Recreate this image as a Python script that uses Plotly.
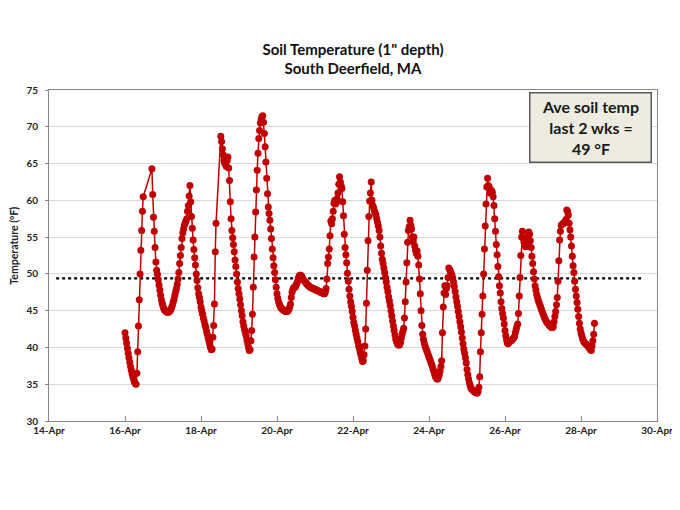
import pandas as pd
import plotly.graph_objects as go

# half-hourly soil temperature readings (deg F), one list per day starting 00:00
# None = missing reading (line is drawn straight across the gap)
temp_apr16 = [42.0, 41.3, 40.6, 39.9, 39.2, 38.6, 38.0, 37.4, 36.9, 36.4, 36.0, 35.6,
              35.3, 35.1, 35.0, 36.5, 39.4, 42.9, 46.5, 50.0, 53.2, 55.9, 58.5, 60.5,
              None, None, None, None, None, None, None, None, None, None, 64.3, 60.8,
              57.7, 55.8, 53.6, 51.6, 50.5, 49.9, 49.2, 48.5, 47.8, 47.1, 46.5, 46.0]
temp_apr17 = [45.6, 45.3, 45.1, 45.0, 44.9, 44.8, 44.8, 44.8, 44.9, 45.0, 45.2, 45.5,
              45.8, 46.2, 46.6, 47.1, 47.6, 48.0, 48.6, 49.3, 50.2, 51.4, 52.5, 53.6,
              54.8, 55.6, 56.1, 56.6, 56.9, 57.2, 57.5, 58.5, 59.3, 60.6, 62.0, 59.8,
              57.8, 56.2, 54.6, 53.3, 52.2, 51.2, 50.0, 49.1, 48.1, 47.3, 46.8, 46.2]
temp_apr18 = [45.5, 45.0, 44.5, 44.0, 43.6, 43.1, 42.7, 42.2, 41.8, 41.3, 40.9, 40.4,
              40.0, 39.7, 39.8, 41.4, 43.0, 45.9, 53.0, 56.9, None, None, None, None,
              None, 68.7, 68.0, 67.0, 66.2, 65.4, 65.0, 65.6, 64.6, 65.4, 65.9, 64.4,
              62.7, 59.8, 57.5, 55.9, 54.9, 54.0, 53.0, 51.9, 51.0, 50.0, 48.9, 48.0]
temp_apr19 = [47.3, 46.6, 45.8, 45.0, 44.3, 43.5, 42.9, 42.4, 42.0, 41.6, 41.0, 40.5,
              40.0, 39.6, 39.7, 40.9, 42.3, 44.5, 48.2, 52.3, 55.0, 58.4, 61.4, 64.1,
              66.4, 68.4, 69.5, 70.5, 71.0, 71.4, 71.5, 70.6, 69.1, 67.3, 65.2, 63.0,
              60.9, 59.1, 58.2, 57.3, 56.1, 54.8, 53.4, 52.2, 51.1, 50.2, 49.2, 48.2]
temp_apr20 = [47.3, 46.7, 46.2, 45.9, 45.6, 45.4, 45.3, 45.2, 45.1, 45.0, 45.0, 44.9,
              44.9, 44.9, 45.0, 45.2, 45.5, 45.9, 46.8, 47.5, 47.9, 48.1, 48.2, 48.2,
              48.5, 48.7, 49.0, 49.4, 49.7, 49.8, 49.8, 49.7, 49.5, 49.3, 49.1, 49.0,
              48.9, 48.7, 48.6, 48.5, 48.4, 48.3, 48.2, 48.1, 48.1, 48.0, 48.0, 47.9]
temp_apr21 = [47.9, 47.8, 47.8, 47.7, 47.7, 47.6, 47.6, 47.5, 47.5, 47.4, 47.4, 47.3,
              47.3, 47.5, 48.0, 49.3, 51.4, 52.3, 53.4, 55.2, 57.2, 56.8, 57.5, 58.5,
              59.6, 60.0, 59.5, 59.7, 60.2, 61.0, 62.2, 63.2, 62.5, 62.0, 61.6, 59.8,
              57.9, 55.4, 53.6, 52.6, 51.5, 50.1, 49.0, 47.9, 47.0, 46.2, 45.6, 44.9]
temp_apr22 = [44.1, 43.4, 42.9, 42.3, 41.8, 41.3, 40.8, 40.3, 39.9, 39.4, 39.0, 38.5,
              38.1, 38.2, 39.0, 40.2, 42.5, 46.0, 50.5, 54.5, 57.8, 59.9, 61.0, 62.5,
              60.0, 59.3, 59.0, 58.6, 58.3, 58.0, 57.5, 57.0, 56.5, 55.9, 55.0, 53.8,
              52.8, 52.0, 51.4, 50.8, 50.2, 49.5, 48.9, 48.2, 47.6, 46.9, 46.3, 45.7]
temp_apr23 = [45.0, 44.3, 43.6, 42.9, 42.3, 41.7, 41.1, 40.8, 40.5, 40.4, 40.3, 40.4,
              40.7, 41.3, 41.8, 42.2, 42.6, 44.0, 46.2, 48.9, 51.5, 54.3, 55.9, 56.4,
              57.3, 56.6, 56.1, 55.0, 54.4, 55.0, 53.8, 53.2, 52.8, 53.1, 52.4, 51.2,
              49.3, 47.3, 45.0, 43.0, 41.8, 41.1, 40.6, 40.2, 39.9, 39.6, 39.3, 39.0]
temp_apr24 = [38.7, 38.4, 38.1, 37.8, 37.5, 37.1, 36.8, 36.4, 36.1, 35.9, 35.7, 35.7,
              36.0, 36.3, 36.8, 37.4, 38.2, 42.0, 45.5, 47.4, 48.4, 47.2, 48.0, 48.4,
              49.5, 50.8, 50.6, 50.4, 50.1, 49.8, 49.4, 48.9, 48.3, 47.6, 46.9, 46.2,
              45.6, 44.9, 44.2, 43.5, 42.8, 42.1, 41.3, 40.5, 39.8, 39.2, 38.6, 37.9]
temp_apr25 = [37.0, 36.3, 35.7, 35.2, 34.8, 34.5, 34.3, 34.2, 34.1, 34.0, 33.9, 33.9,
              33.8, 33.8, 34.0, 34.6, 36.0, 39.4, 42.0, 44.5, 47.0, 50.0, 53.4, 56.5,
              59.5, 61.8, 63.0, 62.0, 61.8, 61.0, 61.4, 61.3, 61.1, 60.5, 59.3, 57.5,
              55.8, 54.0, 52.6, 51.0, 49.6, 48.4, 47.4, 46.2, 45.3, 44.6, 44.0, 43.2]
temp_apr26 = [42.3, 41.6, 41.0, 40.6, 40.5, 40.7, 40.8, 40.9, 40.9, 41.0, 41.2, 41.3,
              41.5, 42.0, 42.4, 42.8, 43.2, 44.6, 47.0, 49.5, 52.5, 55.0, 55.8, 54.8,
              54.3, 54.0, 53.7, 54.0, 54.5, 55.2, 55.7, 55.4, 54.5, 53.6, 52.4, 51.4,
              50.3, 49.3, 48.4, 47.8, 47.2, 46.8, 46.4, 46.1, 45.8, 45.5, 45.2, 44.9]
temp_apr27 = [44.6, 44.3, 44.0, 43.8, 43.6, 43.4, 43.3, 43.2, 43.0, 42.9, 42.8, 42.7,
              42.7, 42.8, 43.5, 44.2, 44.9, 45.8, 46.8, 49.0, 51.8, 54.6, 55.8, 56.6,
              56.7, 56.8, 56.9, 57.0, 57.1, 57.4, 58.7, 58.5, 58.0, 56.9, 56.0, 55.0,
              53.8, 52.4, 51.1, 50.2, 49.0, 47.9, 47.0, 46.1, 45.2, 44.2, 43.3, 42.5]
temp_apr28 = [42.0, 41.6, 41.2, 40.9, 40.7, 40.6, 40.5, 40.4, 40.3, 40.2, 40.0, 39.9,
              39.7, 39.6, 40.2, 40.9, 41.8, 43.3]

start_time = "2013-04-16 00:00"
ave_temp = 49.4
ave_line_x = ["2013-04-14 04:30", "2013-04-29 15:45"]
x_range = ["2013-04-14", "2013-04-30"]

temps = (temp_apr16 + temp_apr17 + temp_apr18 + temp_apr19 + temp_apr20 + temp_apr21 +
         temp_apr22 + temp_apr23 + temp_apr24 + temp_apr25 + temp_apr26 + temp_apr27 +
         temp_apr28)
times = pd.date_range(start_time, periods=len(temps), freq="30min")

font_name = "Lato, 'Open Sans', sans-serif"
red = "#C00000"
axis_grey = "#868686"

fig = go.Figure()
fig.add_trace(go.Scatter(x=[ave_line_x[0], ave_line_x[1]], y=[ave_temp, ave_temp],
                         mode="lines", line=dict(color="black", width=2.2, dash="dot"),
                         hoverinfo="skip"))
fig.add_trace(go.Scatter(x=times, y=temps, mode="lines+markers", connectgaps=True,
                         line=dict(color=red, width=1.5),
                         marker=dict(color=red, size=7)))

fig.add_annotation(x=0.891, y=0.888, xref="paper", yref="paper",
                   xanchor="center", yanchor="middle",
                   text="<b>Ave soil temp<br>last 2 wks =<br>49 °F</b>",
                   showarrow=False, align="center",
                   font=dict(family=font_name, size=16, color="#1a1a1a"),
                   bgcolor="#EEECE1", bordercolor="#595959", borderwidth=1.5,
                   width=116, height=64, borderpad=2)

# y axis title as a rotated annotation (sits a little above centre, like the original)
fig.add_annotation(x=-0.059, y=0.53, xref="paper", yref="paper",
                   xanchor="center", yanchor="middle", textangle=-90,
                   text="<b>Temperature (°F)</b>", showarrow=False,
                   font=dict(family=font_name, size=10.5, color="#222222"))

# the page puts the plot 8px in from the top-left corner, so margins are shifted
fig.update_layout(
    width=680, height=510,
    margin=dict(l=41, r=31, t=82, b=97),
    paper_bgcolor="white", plot_bgcolor="white",
    showlegend=False,
    font=dict(family=font_name, color="#222222"),
    title=dict(text="<b>Soil Temperature (1\" depth)<br>South Deerfield, MA</b>",
               x=0.5, xref="paper", xanchor="center",
               y=0.908, yref="container", yanchor="middle",
               font=dict(family=font_name, size=15, color="#111111")),
)
fig.update_xaxes(type="date", range=x_range, dtick=2 * 86400000, tick0=x_range[0],
                 tickformat="%-d-%b", showgrid=False, ticks="inside", ticklen=5,
                 tickcolor=axis_grey, showline=True, linecolor=axis_grey, linewidth=1,
                 mirror=True, automargin=False,
                 tickfont=dict(size=10, color="#222222", weight="bold"))
fig.update_yaxes(range=[30, 75], dtick=5, showgrid=True, gridcolor="#D9D9D9",
                 gridwidth=1, ticks="outside", ticklen=3, tickcolor=axis_grey,
                 showline=True, linecolor=axis_grey, linewidth=1, mirror=True,
                 zeroline=False, automargin=False, ticklabelstandoff=5,
                 tickfont=dict(size=10, color="#222222", weight="bold"))

fig.write_html("out.html")
